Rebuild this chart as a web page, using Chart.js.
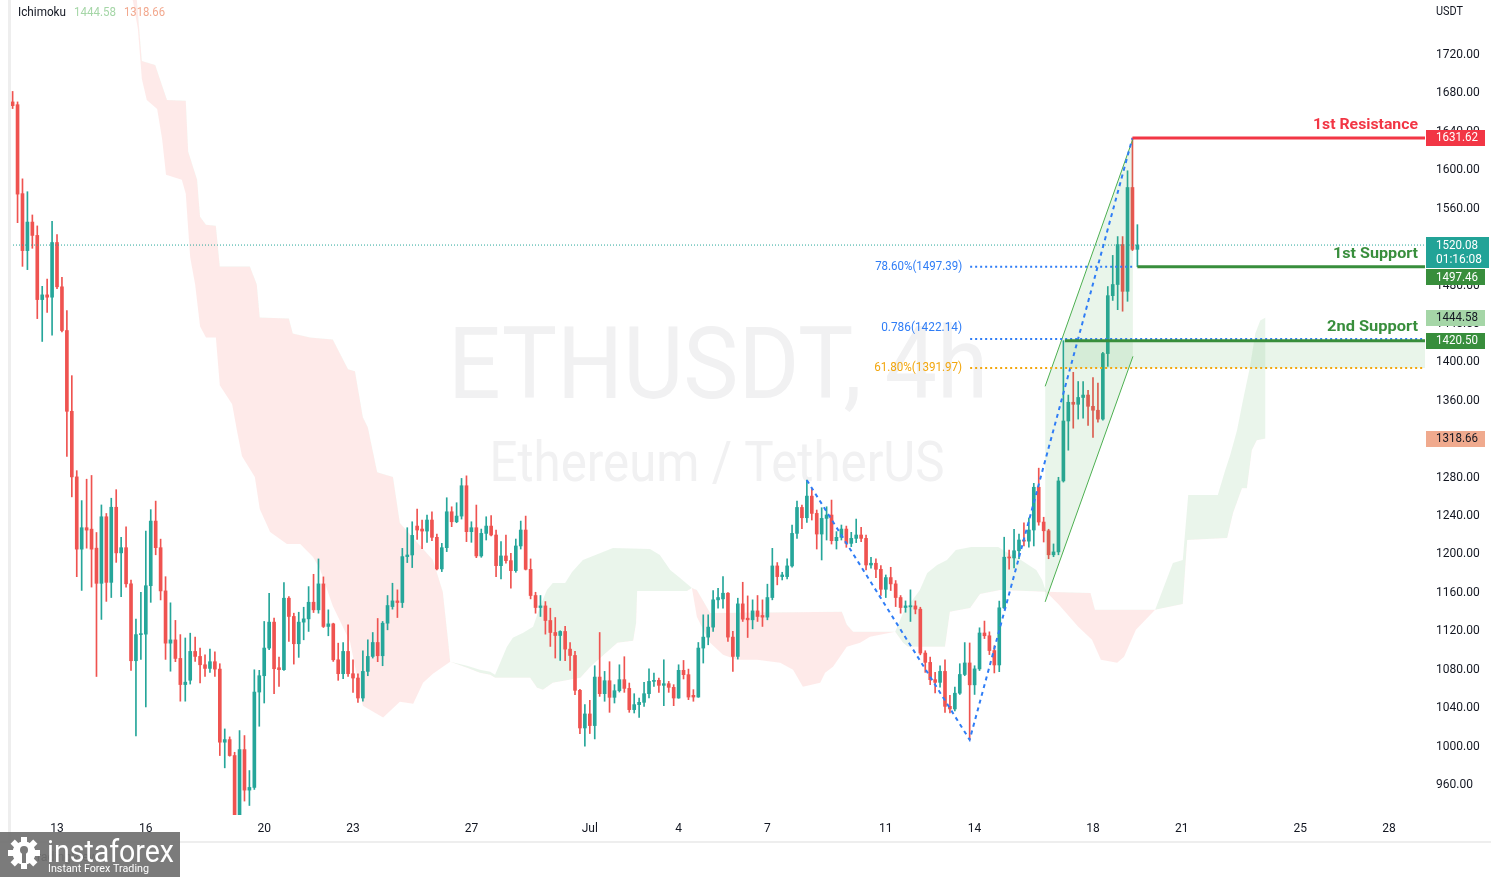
<!DOCTYPE html>
<html><head><meta charset="utf-8">
<style>html,body{margin:0;padding:0;background:#fff;overflow:hidden}canvas{display:block}</style>
<script src="https://cdn.jsdelivr.net/npm/chart.js@4.4.1/dist/chart.umd.min.js"></script>
</head><body>
<canvas id="c" width="1491" height="877" style="width:1491px;height:877px"></canvas>
<script>
// ---- data: 4h candles, index = number of 4h periods since 13 Jun 00:00 ----
const FIRST_INDEX = -9;
const opens = [
1669.1,1666.2,1573.6,1514.3,1544.0,1530.1,1463.3,1468.2,1465.8,1522.7,
1476.6,1431.1,1347.0,1278.7,1203.5,1225.8,1224.3,1204.5,1167.9,1237.2,
1168.9,1247.1,1199.6,1205.0,1167.4,1087.3,1114.5,1115.0,1165.4,1232.7,
1205.0,1160.0,1105.6,1109.0,1089.7,1062.5,1067.0,1097.0,1091.8,1083.1,
1079.3,1086.3,1078.6,1002.5,1005.2,988.6,915.0,994.8,952.6,955.4,
1054.7,1071.7,1100.5,1127.5,1080.0,1078.0,1152.4,1133.4,1105.0,1127.5,
1130.9,1148.2,1140.3,1167.3,1123.0,1125.7,1088.3,1073.8,1097.0,1073.8,
1069.3,1048.5,1076.2,1091.8,1106.3,1092.5,1126.4,1143.7,1149.6,1147.9,
1195.7,1197.4,1227.5,1224.4,1222.3,1233.8,1215.8,1182.9,1205.0,1242.4,
1232.0,1237.9,1269.5,1221.7,1225.8,1196.4,1219.9,1227.5,1218.2,1186.3,
1196.4,1191.5,1181.1,1206.8,1223.4,1182.5,1155.2,1142.7,1144.4,1129.2,
1116.7,1113.6,1117.8,1099.4,1092.8,1056.5,1017.3,1031.9,1019.8,1070.3,
1053.0,1066.5,1049.2,1056.1,1067.6,1058.5,1036.4,1041.6,1044.0,1053.0,
1065.8,1066.9,1061.7,1063.4,1059.6,1048.5,1077.3,1072.8,1051.3,1049.5,
1100.5,1111.9,1122.3,1150.7,1151.7,1157.6,1111.9,1091.8,1146.5,1131.6,
1129.9,1139.2,1134.4,1132.7,1153.1,1186.0,1174.9,1174.9,1186.0,1219.9,
1246.9,1236.2,1258.7,1240.7,1219.2,1235.5,1239.0,1212.3,1215.8,1224.4,
1209.5,1214.7,1218.2,1214.7,1187.0,1188.8,1182.5,1161.7,1173.9,1167.3,
1153.1,1142.7,1143.4,1144.4,1141.0,1095.3,1085.6,1067.6,1064.8,1076.2,
1039.8,1037.1,1053.5,1073.0,1085.0,1062.2,1078.8,1116.2,1113.3,1097.9,
1082.9,1142.4,1195.1,1194.3,1201.8,1213.0,1211.8,1223.4,1267.9,1231.7,
1222.6,1197.6,1200.6,1274.5,1336.9,1356.4,1354.3,1361.4,1363.9,1352.2,
1348.1,1338.9,1407.1,1467.4,1479.0,1520.6,1471.9,1580.0,1515.6];
const highs = [
1680.0,1669.1,1589.0,1575.6,1551.4,1540.0,1477.1,1484.6,1544.9,1531.1,
1486.5,1451.9,1384.1,1285.2,1254.0,1276.3,1280.2,1220.8,1249.5,1240.6,
1256.5,1265.4,1215.9,1226.8,1171.4,1130.8,1158.5,1222.3,1244.6,1253.5,
1213.9,1174.8,1147.6,1129.3,1114.5,1111.0,1116.0,1111.9,1100.5,1093.5,
1099.4,1096.6,1084.2,1016.3,1008.0,992.0,1014.6,1009.4,973.0,1077.9,
1077.3,1128.2,1157.6,1131.6,1091.1,1168.7,1154.1,1136.8,1137.8,1143.0,
1164.5,1177.3,1193.3,1174.6,1140.3,1126.4,1105.6,1106.3,1124.7,1088.3,
1073.8,1097.7,1109.1,1116.7,1131.3,1128.2,1155.2,1168.0,1161.1,1204.3,
1225.8,1232.0,1245.2,1233.8,1239.0,1242.4,1219.2,1209.5,1257.0,1247.6,
1251.8,1277.1,1279.8,1232.0,1249.4,1224.4,1237.2,1238.3,1223.4,1211.3,
1218.2,1199.1,1214.0,1232.7,1237.9,1193.3,1158.6,1155.2,1148.9,1142.0,
1132.3,1118.5,1123.0,1106.3,1097.0,1057.5,1041.6,1046.1,1082.1,1116.7,
1076.2,1086.3,1062.4,1083.1,1091.5,1064.1,1053.0,1048.5,1064.8,1079.0,
1074.5,1069.3,1088.3,1065.8,1062.4,1083.1,1087.6,1078.6,1057.2,1106.3,
1135.1,1135.1,1160.4,1162.8,1174.9,1158.3,1117.8,1152.4,1169.0,1154.8,
1150.7,1155.2,1150.7,1167.0,1204.3,1189.5,1179.4,1193.3,1228.6,1253.5,
1249.4,1275.3,1266.7,1244.2,1246.6,1247.6,1254.6,1221.7,1228.6,1227.5,
1221.0,1234.8,1226.2,1218.2,1195.0,1193.3,1186.3,1176.6,1184.6,1170.8,
1155.2,1149.6,1161.1,1149.6,1143.0,1097.7,1091.1,1075.2,1082.1,1088.3,
1051.3,1060.0,1084.2,1106.2,1105.8,1082.1,1121.6,1128.6,1117.4,1102.9,
1149.4,1215.9,1202.6,1224.2,1219.2,1230.9,1235.9,1272.0,1287.8,1236.7,
1224.2,1208.9,1278.3,1420.5,1363.9,1387.6,1378.0,1378.0,1368.9,1382.2,
1376.3,1408.3,1476.9,1509.3,1528.9,1528.9,1597.4,1631.62,1541.3];
const lows = [
1662.2,1543.4,1497.9,1494.5,1516.7,1443.5,1419.7,1449.9,1426.2,1474.7,
1429.6,1300.0,1257.9,1174.8,1160.5,1204.5,1164.0,1070.9,1130.3,1149.1,
1153.1,1189.7,1154.1,1164.0,1077.3,1009.1,1088.7,1039.2,1148.1,1197.6,
1150.6,1088.7,1076.4,1086.3,1045.2,1045.2,1063.0,1086.6,1064.1,1071.0,
1075.2,1071.0,988.6,975.8,987.9,896.0,882.0,941.2,936.6,953.3,
1019.1,1043.3,1098.7,1053.0,1060.6,1077.3,1107.4,1083.8,1090.8,1109.1,
1117.8,1137.5,1136.8,1121.9,1113.3,1086.6,1066.9,1068.6,1071.0,1054.4,
1044.0,1045.1,1071.7,1090.1,1086.3,1082.1,1119.5,1141.0,1132.3,1142.7,
1189.5,1184.3,1213.7,1204.0,1210.6,1212.3,1181.8,1180.1,1200.9,1226.9,
1231.0,1234.8,1211.3,1210.6,1194.6,1195.0,1213.0,1217.2,1174.9,1172.5,
1188.8,1162.8,1179.4,1203.6,1181.8,1151.7,1136.8,1133.4,1115.0,1102.2,
1090.1,1087.6,1087.3,1077.3,1052.0,1011.5,998.3,1011.5,1005.9,1050.2,
1045.1,1033.6,1043.3,1054.7,1054.4,1033.6,1032.9,1028.4,1039.8,1048.5,
1060.6,1054.4,1040.5,1054.4,1040.5,1048.2,1068.3,1046.8,1045.1,1049.2,
1084.9,1103.9,1117.8,1142.0,1142.0,1107.4,1076.2,1089.0,1128.2,1111.5,
1120.5,1128.2,1123.0,1129.9,1150.7,1166.3,1171.4,1172.5,1184.6,1214.7,
1224.8,1231.4,1233.8,1203.6,1192.2,1213.0,1208.8,1203.6,1213.0,1205.4,
1206.1,1210.2,1211.3,1181.8,1183.6,1173.9,1155.2,1153.1,1160.4,1143.7,
1136.8,1137.8,1128.2,1136.1,1093.5,1075.2,1062.4,1053.7,1059.9,1033.6,
1032.9,1035.0,1052.2,1071.7,1005.0,1052.2,1077.1,1110.4,1093.7,1074.6,
1075.9,1141.5,1182.7,1183.9,1193.5,1206.8,1205.5,1206.8,1228.4,1210.9,
1193.5,1195.6,1197.6,1273.3,1306.5,1329.4,1338.9,1339.8,1332.3,1319.8,
1335.6,1337.7,1393.8,1462.4,1452.8,1451.2,1461.5,1514.3,1497.46];
const closes = [
1665.2,1573.1,1514.3,1544.0,1530.1,1463.3,1468.2,1465.8,1522.7,1476.6,
1431.1,1347.0,1278.7,1203.5,1225.8,1223.3,1203.5,1167.9,1237.2,1168.9,
1247.1,1199.6,1205.0,1167.4,1087.3,1114.5,1115.0,1165.4,1232.7,1205.0,
1160.0,1105.6,1109.0,1089.7,1062.5,1065.0,1097.0,1091.8,1083.1,1079.3,
1086.3,1078.6,1002.5,1005.2,988.6,915.0,994.8,952.6,955.4,1054.7,
1071.7,1100.5,1127.5,1079.0,1078.0,1152.4,1133.4,1105.0,1127.5,1130.9,
1148.2,1140.3,1167.3,1123.0,1125.7,1088.3,1073.8,1097.0,1073.8,1069.3,
1048.5,1076.2,1091.8,1106.3,1092.5,1126.4,1144.8,1149.6,1147.9,1195.7,
1197.4,1217.8,1223.4,1222.3,1233.8,1215.8,1182.9,1205.0,1242.4,1232.0,
1237.9,1269.5,1221.7,1225.8,1196.4,1219.9,1227.5,1218.2,1186.3,1196.4,
1191.5,1181.1,1206.8,1223.4,1182.5,1155.2,1142.7,1144.4,1129.2,1116.7,
1113.6,1117.8,1099.4,1092.8,1056.5,1017.3,1031.9,1019.8,1070.3,1053.0,
1066.5,1049.2,1056.1,1067.6,1058.5,1036.4,1041.6,1044.0,1053.0,1065.8,
1066.9,1061.7,1063.4,1059.6,1048.5,1077.3,1072.8,1049.5,1049.5,1100.5,
1111.9,1122.3,1150.7,1153.1,1157.6,1111.9,1091.8,1146.5,1130.6,1129.9,
1139.2,1133.4,1132.7,1153.1,1186.0,1174.9,1176.6,1186.0,1219.9,1246.9,
1236.2,1258.7,1240.7,1219.2,1235.5,1239.0,1212.3,1215.8,1224.4,1209.5,
1214.7,1218.2,1214.7,1187.0,1188.8,1182.5,1161.7,1173.9,1167.3,1153.1,
1142.7,1144.4,1144.6,1141.0,1095.3,1085.6,1067.6,1064.8,1076.2,1039.8,
1037.1,1053.5,1073.0,1085.0,1062.2,1078.8,1116.2,1113.3,1097.9,1082.9,
1142.4,1195.1,1194.3,1201.8,1213.0,1211.8,1223.4,1267.9,1231.7,1222.6,
1197.6,1200.6,1274.5,1336.9,1356.4,1354.3,1361.4,1363.9,1352.2,1348.1,
1338.9,1407.1,1467.4,1479.0,1520.6,1471.9,1580.0,1515.6,1520.08];

const tickIndex = [0,18,42,60,84,108,126,144,168,186,210,228,252,270];
const tickLabels = ['13','16','20','23','27','Jul','4','7','11','14','18','21','25','28'];
const priceTicks = [960,1000,1040,1080,1120,1160,1200,1240,1280,1320,1360,1400,1440,1480,1520,1560,1600,1640,1680,1720];

// Ichimoku cloud (Leading Span A / B, already displaced)
const spanAIdx = [13.8,15.4,16.4,17.2,18.2,20.3,21.3,22.1,25.3,26.1,26.6,27.0,28.0,29.0,30.2,32.2,33.0,35.5,36.5,37.5,40.1,41.1,43.2,46.6,49.3,51.9,53.3,55.9,59.4,62.0,66.1,69.5,72.2,74.2,76.2,79.7,
83.1,85.7,87.8,88.8,91.2,92.4,94.5,96.5,97.9,99.3,100.5,103.0,104.4,106.6,112.7,120.2,122.2,124.3,126.3,128.7,
129.7,131.0,132.4,135.0,137.8,141.9,146.6,149.2,151.2,154.7,155.7,157.3,158.7,160.1,162.8,164.8,169.9,
171.5,174.9,176.4,178.4,180.4,182.2,185.3,190.8,192.4,195.4,198.5,199.7,200.5,
203.1,207.0,209.8,211.6,214.9,216.3,218.7,222.6,
226.2,228.2,229.3,235.3,236.8,237.8,239.2,240.4,241.8,242.9,243.9,245];
const spanAVal = [1794.8,1774.1,1745,1693,1671.2,1661.8,1630.7,1593.3,1588.1,1573.5,1536.1,1507,1479,1435.3,1423.9,1423.9,1374,1354.3,1326.2,1300.3,1278.5,1245.2,1221.3,1208.8,1208.8,1195.3,1182.9,1144.4,1107,1040.5,1028.1,1044.7,1042.6,1064.4,1073.8,1086.2,
1082.1,1077.9,1075.8,1072.7,1101.8,1111.2,1116.4,1122.6,1143.4,1161,1168.3,1168.3,1179.7,1192.2,1204.7,1203.6,1197.4,1181.8,1173.5,1163.1,
1133,1119.5,1106,1093.5,1088.3,1088.3,1085.2,1077.9,1060.3,1064.4,1074.8,1081,1091.4,1101.8,1106,1112.2,1117.4,
1137.1,1161,1178.7,1187,1192.2,1202.6,1205.7,1205.7,1200.5,1192.2,1181.8,1171.4,1159,
1145.5,1122.6,1109.1,1088.3,1085.2,1091.4,1119.5,1140.3,
1189.1,1192.2,1259.8,1259.8,1285.7,1301.3,1327.3,1358.5,1392.7,1428.1,1441.6,1444.58];
const spanBIdx = [13.8,16.2,17.2,19.9,22.3,26.1,26.6,28.4,29.0,30.2,32.2,33.0,39.1,40.5,41.1,47.0,47.8,51.3,55.9,59.0,60.4,62.0,63.0,64.9,68.1,69.5,76.2,78.2,79.3,79.7,
83.1,85.7,87.8,88.8,95.9,97.3,98.5,100.5,106.1,108.1,113.6,116.8,117.4,117.6,127.7,128.7,
129.7,132.4,159.1,160.1,161.4,169.9,
171.5,172.5,180.0,181.0,185.1,187.1,191.2,200.5,
209.5,210.4,222.6,
228.2,229.1,237.2,238.4,240.2,241.2,242.2,243.2,245];
const spanBVal = [1836.4,1774.1,1711.7,1707.6,1671.2,1670.2,1617.2,1588.1,1549.6,1541.3,1540.3,1497.7,1497.7,1479,1444.7,1443.7,1428.1,1423.9,1421.8,1390.7,1388.6,1340.8,1330.4,1283.6,1278.5,1230.7,1192.2,1159,1107,1086.2,
1080,1074.8,1072.7,1069.6,1069.6,1059.2,1057.1,1064.4,1069.6,1081,1106,1108.1,1126.8,1160,1160,1163.1,
1161,1137.1,1138.2,1124.7,1117.4,1117.4,
1106,1101.8,1101.8,1138.2,1142.3,1156.9,1161,1159,
1157.9,1140.3,1140.3,
1146.5,1213,1215.1,1241.1,1267,1267,1306.5,1316.9,1318.66];

// drawings
const channelIdx = [200.3, 218.1];
const channelUpper = [1373.0, 1630.7];
const channelLower = [1148.6, 1404.2];
const swingIdx = [152, 185, 218];
const swingVal = [1275.3, 1005.0, 1631.62];
const lastPrice = 1520.08, countdown = '01:16:08';
const resistance1 = 1631.62, support1 = 1497.46, support2 = 1420.50;
const fib786a = 1497.39, fib786b = 1422.14, fib618 = 1391.97;
const leadA = 1444.58, leadB = 1318.66;
const resStart = 218, sup1Start = 219, sup2Start = 204.3, fibStart = 185.1, fibAEnd = 218.5;
const X_MIN = -9.53, X_MAX = 277.3, Y_MIN = 926.7, Y_MAX = 1775.2;

// ---- build ----
const UP = '#26a69a', DOWN = '#ef5350';
const idx = opens.map((_, i) => FIRST_INDEX + i);
const candleColors = opens.map((o, i) => closes[i] >= o ? UP : DOWN);
const wickData = idx.map((x, i) => ({x, y: [lows[i], highs[i]]}));
const bodyData = idx.map((x, i) => ({x, y: [opens[i], closes[i]]}));
const pts = (xs, ys) => xs.map((x, i) => ({x, y: ys[i]}));
const hline = (x0, x1, v) => [{x: x0, y: v}, {x: x1, y: v}];
const lineDs = (data, color, width, dash, order, fill) => ({
  type: 'line', data, borderColor: color, borderWidth: width, borderDash: dash || [],
  pointRadius: 0, tension: 0, fill: fill || false, order, borderCapStyle: 'butt'
});
const FONT = 'Roboto, "Liberation Sans", sans-serif';

function fitText(ctx, text, x, y, w, size, weight, color, align, baseline) {
  ctx.save();
  ctx.font = `${weight} ${size}px ${FONT}`;
  const m = ctx.measureText(text).width;
  ctx.translate(x, y);
  ctx.scale(w / m, 1);
  ctx.fillStyle = color;
  ctx.textAlign = align || 'left';
  ctx.textBaseline = baseline || 'middle';
  ctx.fillText(text, 0, 0);
  ctx.restore();
}

const annot = {
  id: 'annot',
  beforeDatasetsDraw(chart) {
    const {ctx, chartArea: a} = chart;
    ctx.save();
    ctx.beginPath(); ctx.rect(a.left, a.top, a.right - a.left, a.bottom - a.top); ctx.clip();
    fitText(ctx, 'ETHUSDT, 4h', 718, 398, 540, 100, 'normal', '#f1f1f2', 'center', 'alphabetic');
    fitText(ctx, 'Ethereum / TetherUS', 717, 481, 455, 55, 'normal', '#f1f1f2', 'center', 'alphabetic');
    ctx.restore();
  },
  afterDatasetsDraw(chart) {
    const {ctx, chartArea: a, scales: {x, y}} = chart;
    const R = a.right - 7;
    fitText(ctx, '1st Resistance', R, y.getPixelForValue(resistance1) - 13, 105, 15, 'bold', '#f23645', 'right');
    fitText(ctx, '1st Support', R, y.getPixelForValue(support1) - 13, 85, 15, 'bold', '#388e3c', 'right');
    fitText(ctx, '2nd Support', R, y.getPixelForValue(support2) - 13, 91, 15, 'bold', '#388e3c', 'right');
    const fx = x.getPixelForValue(fibStart) - 8;
    fitText(ctx, '78.60%(' + fib786a.toFixed(2) + ')', fx, y.getPixelForValue(fib786a), 87, 12, 'normal', '#2f7df6', 'right');
    fitText(ctx, '0.786(' + fib786b.toFixed(2) + ')', fx, y.getPixelForValue(fib786b) - 11, 81, 12, 'normal', '#2f7df6', 'right');
    fitText(ctx, '61.80%(' + fib618.toFixed(2) + ')', fx, y.getPixelForValue(fib618), 88, 12, 'normal', '#f2a60d', 'right');
    // header
    fitText(ctx, 'Ichimoku', 18, 13, 48, 12.5, 'normal', '#131722', 'left');
    fitText(ctx, leadA.toFixed(2), 74, 13, 42, 12.5, 'normal', '#a5d6a7', 'left');
    fitText(ctx, leadB.toFixed(2), 124, 13, 41, 12.5, 'normal', '#f2a88e', 'left');
  },
  afterDraw(chart) {
    const {ctx, scales: {y}} = chart;
    // borders
    ctx.fillStyle = '#eeeeee';
    ctx.fillRect(8, 0, 3, 842);
    ctx.fillRect(0, 841, 1491, 2);
    // price boxes
    const box = (cy, bg, fg, text) => {
      ctx.fillStyle = bg;
      ctx.fillRect(1426, Math.round(cy) - 8, 59, 16);
      fitText(ctx, text, 1436, cy + 0.5, 42, 12, 'normal', fg, 'left');
    };
    const lp = y.getPixelForValue(lastPrice);
    box(y.getPixelForValue(resistance1), '#f23645', '#ffffff', resistance1.toFixed(2));
    // the support label is pushed below the last-price label so they do not overlap
    box(Math.max(y.getPixelForValue(support1), Math.round(lp) + 32), '#388e3c', '#ffffff', support1.toFixed(2));
    box(y.getPixelForValue(leadA), '#a5d6a7', '#131722', leadA.toFixed(2));
    box(y.getPixelForValue(support2), '#388e3c', '#ffffff', support2.toFixed(2));
    box(y.getPixelForValue(leadB), '#f0aa8e', '#131722', leadB.toFixed(2));
    ctx.fillStyle = '#22a397';
    ctx.fillRect(1426, Math.round(lp) - 8, 63, 31);
    fitText(ctx, lastPrice.toFixed(2), 1436, lp + 1, 42, 12, 'normal', '#ffffff', 'left');
    fitText(ctx, countdown, 1436, lp + 15, 46, 12, 'normal', '#ffffff', 'left');
    fitText(ctx, 'USDT', 1436, 12, 27, 12, 'normal', '#131722', 'left');
    // logo
    fitText(ctx, 'TradingView', 30, 858, 68, 12, 'normal', '#444', 'left');
    ctx.fillStyle = 'rgba(112,112,112,0.92)';
    ctx.fillRect(0, 832, 180, 45);
    ctx.save();
    ctx.translate(24, 853);
    ctx.fillStyle = '#ffffff';
    for (let i = 0; i < 8; i++) {
      ctx.save(); ctx.rotate(i * Math.PI / 4); ctx.fillRect(-3, -16, 6, 7); ctx.restore();
    }
    ctx.beginPath(); ctx.arc(0, 0, 11.5, 0, Math.PI * 2); ctx.fill();
    ctx.fillStyle = '#7a7a7a';
    ctx.beginPath(); ctx.arc(0, -3, 4, 0, Math.PI * 2); ctx.fill();
    ctx.fillRect(-2, 0, 4, 10);
    ctx.restore();
    fitText(ctx, 'instaforex', 47, 862, 127, 32, 'normal', '#ffffff', 'left', 'alphabetic');
    fitText(ctx, 'Instant Forex Trading', 48, 869, 101, 11, 'normal', '#ffffff', 'left');
  }
};

const GREEN_FILL = 'rgba(67,160,71,0.11)';
const RED_FILL = 'rgba(244,67,54,0.11)';

const datasets = [
  lineDs(pts(spanAIdx, spanAVal), 'transparent', 0, null, 20, {target: '+1', above: GREEN_FILL, below: RED_FILL}),
  lineDs(pts(spanBIdx, spanBVal), 'transparent', 0, null, 19),
  {type: 'bar', data: wickData, backgroundColor: candleColors, barThickness: 1, grouped: false, order: 11, borderWidth: 0},
  {type: 'bar', data: bodyData, backgroundColor: candleColors, barThickness: 3, grouped: false, order: 10, borderWidth: 0, minBarLength: 1},
  lineDs(hline(sup2Start, X_MAX, support2), 'transparent', 0, null, 9, {target: '+1', above: 'rgba(76,175,80,0.12)', below: 'rgba(76,175,80,0.12)'}),
  lineDs(hline(sup2Start, X_MAX, fib618), 'transparent', 0, null, 8),
  lineDs(pts(channelIdx, channelUpper), '#4caf50', 1, null, 7, {target: '+1', above: 'rgba(76,175,80,0.12)', below: 'rgba(76,175,80,0.12)'}),
  lineDs(pts(channelIdx, channelLower), '#4caf50', 1, null, 6),
  lineDs(hline(X_MIN, X_MAX, lastPrice), '#26a69a', 1, [1, 2], 5),
  lineDs(pts(swingIdx, swingVal), '#2f7df6', 2, [4, 4], 4),
  lineDs(hline(fibStart, fibAEnd, fib786a), '#2f7df6', 2, [2, 3], 3),
  lineDs(hline(fibStart, X_MAX, fib786b), '#2f7df6', 2, [2, 3], 3),
  lineDs(hline(fibStart, X_MAX, fib618), '#f2a60d', 2, [2, 3], 3),
  lineDs(hline(sup2Start, X_MAX, support2), '#388e3c', 3, null, 1),
  lineDs(hline(sup1Start, X_MAX, support1), '#388e3c', 3, null, 1),
  lineDs(hline(resStart, X_MAX, resistance1), '#f23645', 3, null, 1)
];

const noPad = (s) => { s.paddingTop = 0; s.paddingBottom = 0; s.paddingLeft = 0; s.paddingRight = 0; };

new Chart(document.getElementById('c'), {
  type: 'bar',
  data: {datasets},
  options: {
    responsive: false, devicePixelRatio: 1, animation: false, events: [],
    layout: {padding: {left: 10, top: 0, right: 0, bottom: 0}},
    plugins: {legend: {display: false}, tooltip: {enabled: false}},
    scales: {
      x: {
        type: 'linear', min: X_MIN, max: X_MAX, offset: false,
        grid: {display: false, drawTicks: false}, border: {display: false},
        ticks: {padding: 7, autoSkip: false, maxRotation: 0, color: '#131722', font: {size: 12, family: FONT},
          callback: (v) => { const k = tickIndex.indexOf(v); return k >= 0 ? tickLabels[k] : ''; }},
        afterBuildTicks: (s) => { s.ticks = tickIndex.map(v => ({value: v})); },
        afterFit: (s) => { s.height = 62; noPad(s); }
      },
      y: {
        type: 'linear', position: 'right', min: Y_MIN, max: Y_MAX,
        grid: {display: false, drawTicks: false}, border: {display: false},
        ticks: {padding: 11, labelOffset: 2, color: '#131722', font: {size: 12, family: FONT}, callback: (v) => Number(v).toFixed(2)},
        afterBuildTicks: (s) => { s.ticks = priceTicks.map(v => ({value: v})); },
        afterFit: (s) => { s.width = 66; noPad(s); }
      }
    }
  },
  plugins: [annot]
});
</script></body></html>
